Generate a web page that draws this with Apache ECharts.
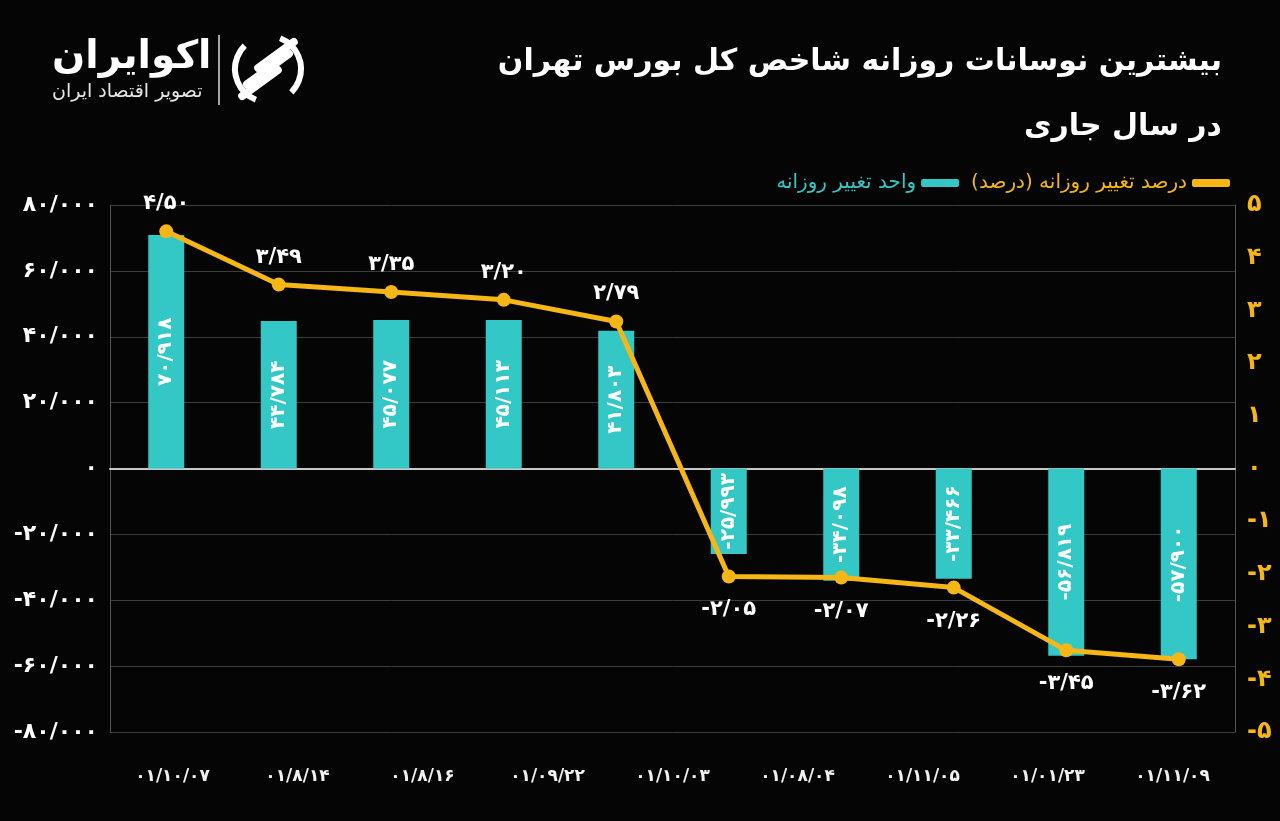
<!DOCTYPE html>
<html><head><meta charset="utf-8">
<script src="https://cdn.jsdelivr.net/npm/echarts@6/dist/echarts.min.js"></script>
<style>html,body{margin:0;padding:0;background:#050505}#c{width:1280px;height:821px}</style>
</head><body><div id="c"></div>
<script>
// ---- data ----
const tickLabels = ['01/10/07','01/8/14','01/8/16','01/09/22','01/10/03','01/08/04','01/11/05','01/01/23','01/11/09'];
const barSlots = ['1','2','3','4','5','6','7','8','9','10'];
const unitChange = [70918, 44784, 45077, 45113, 41803, -25993, -34098, -33466, -56819, -57900];
const pctChange = [4.50, 3.49, 3.35, 3.20, 2.79, -2.05, -2.07, -2.26, -3.45, -3.62];
const seriesNames = ['واحد تغییر روزانه', 'درصد تغییر روزانه (درصد)'];
const titleLines = ['بیشترین نوسانات روزانه شاخص کل بورس تهران', 'در سال جاری'];
const brandName = 'اکوایران';
const brandSub = 'تصویر اقتصاد ایران';

// ---- helpers ----
const FA = '۰۱۲۳۴۵۶۷۸۹';
const fa = s => String(s).replace(/[0-9]/g, d => FA[d]);
const fmtThousands = v => (v < 0 ? '-' : '') + fa(Math.abs(v).toLocaleString('en-US')).replace(/,/g, '/');
const fmtDec = v => (v < 0 ? '-' : '') + fa(Math.abs(v).toFixed(2)).replace('.', '/');
const FONT = 'DejaVu Sans';
const TEAL = '#33C8C6';
const GOLD = '#F5B616';

const chart = echarts.init(document.getElementById('c'), null, {renderer: 'canvas'});
chart.setOption({
  backgroundColor: '#050505',
  animation: false,
  textStyle: {fontFamily: FONT},
  grid: {left: 110, right: 45, top: 205, bottom: 89},
  legend: {
    right: 45, top: 168, itemWidth: 38, itemHeight: 8, itemGap: 12, align: 'right',
    icon: 'roundRect',
    data: [
      {name: seriesNames[0], textStyle: {color: TEAL}},
      {name: seriesNames[1], textStyle: {color: GOLD}}
    ],
    textStyle: {fontFamily: FONT, fontSize: 20}
  },
  xAxis: [
    {type: 'category', data: barSlots,
     axisLine: {show: true, onZero: true, lineStyle: {color: '#c8c8c8', width: 2}},
     axisTick: {show: false}, axisLabel: {show: false}, splitLine: {show: false}},
    {type: 'category', data: tickLabels, position: 'bottom',
     axisLine: {show: false, onZero: false}, axisTick: {show: false},
     axisLabel: {color: '#f0f0f0', fontSize: 17, fontWeight: 'bold', margin: 36, fontFamily: FONT,
                 formatter: v => fa(v)}}
  ],
  yAxis: [
    {type: 'value', min: -80000, max: 80000, interval: 20000,
     axisLine: {show: true, lineStyle: {color: '#555'}},
     splitLine: {lineStyle: {color: '#3c3c3c'}},
     axisLabel: {color: '#ffffff', fontSize: 22, fontWeight: 'bold', margin: 12, fontFamily: FONT,
                 formatter: v => fmtThousands(v)}},
    {type: 'value', min: -5, max: 5, interval: 1, position: 'right',
     axisLine: {show: true, lineStyle: {color: '#555'}},
     splitLine: {show: false},
     axisLabel: {color: GOLD, fontSize: 24, fontWeight: 'bold', margin: 12, fontFamily: FONT,
                 formatter: v => fa(v)}}
  ],
  series: [
    {name: seriesNames[0], type: 'bar', xAxisIndex: 0, yAxisIndex: 0, data: unitChange,
     barWidth: '32%', itemStyle: {color: TEAL},
     label: {show: true, position: 'inside', rotate: 90, color: '#fff', fontSize: 20,
             fontWeight: 'bold', fontFamily: FONT, formatter: p => fmtThousands(p.value)}},
    {name: seriesNames[1], type: 'line', xAxisIndex: 0, yAxisIndex: 1,
     data: pctChange.map(v => ({value: v, label: {position: v >= 0 ? 'top' : 'bottom', distance: v >= 0 ? 10 : 16}})),
     lineStyle: {color: GOLD, width: 5}, itemStyle: {color: GOLD},
     symbol: 'circle', symbolSize: 14, z: 5,
     label: {show: true, color: '#fff', fontSize: 21, fontWeight: 'bold', fontFamily: FONT,
             formatter: p => fmtDec(p.value)}}
  ],
  graphic: [
    {type: 'text', right: 58, top: 47, style: {text: titleLines[0], fill: '#fff', font: 'bold 30px "DejaVu Sans"', align: 'right'}},
    {type: 'text', right: 58, top: 112, style: {text: titleLines[1], fill: '#fff', font: 'bold 30px "DejaVu Sans"', align: 'right'}},
    {type: 'text', left: 52, top: 38, style: {text: brandName, fill: '#fff', font: 'bold 39px "DejaVu Sans"'}},
    {type: 'text', left: 52, top: 83, style: {text: brandSub, fill: '#e6e6e6', font: '19px "DejaVu Sans"'}},
    {type: 'line', shape: {x1: 219, y1: 35, x2: 219, y2: 105}, style: {stroke: '#dcdcdc', lineWidth: 1.5}},
    {type: 'group', x: 268, y: 69, children: [
      {type: 'arc', shape: {cx: 0, cy: 0, r: 33, startAngle: Math.PI * 0.62, endAngle: Math.PI * 1.25}, style: {stroke: '#fff', lineWidth: 6, fill: null}},
      {type: 'arc', shape: {cx: 0, cy: 0, r: 33, startAngle: Math.PI * 1.62, endAngle: Math.PI * 2.25}, style: {stroke: '#fff', lineWidth: 6, fill: null}},
      {type: 'rect', shape: {x: -30, y: -4, width: 60, height: 8, r: 4}, rotation: Math.PI / 5, style: {fill: '#fff'}},
      {type: 'rect', shape: {x: -26, y: -4, width: 52, height: 8, r: 4}, rotation: Math.PI / 5, x: 8, y: -14, style: {fill: '#fff'}},
      {type: 'rect', shape: {x: -26, y: -4, width: 52, height: 8, r: 4}, rotation: Math.PI / 5, x: -8, y: 14, style: {fill: '#fff'}}
    ]}
  ]
});
</script></body></html>
